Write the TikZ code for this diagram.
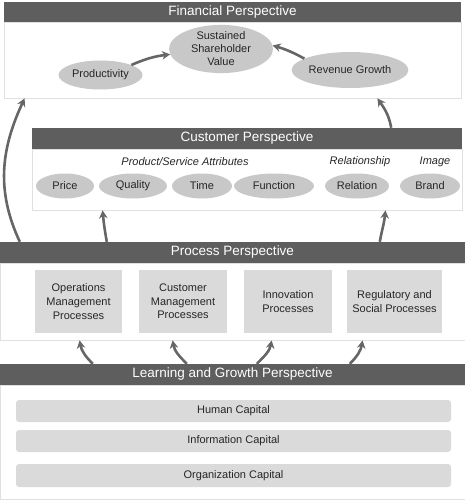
\documentclass[tikz,border=0pt]{standalone}
\usepackage{fontspec}
\setmainfont{Liberation Sans}
\usepackage{tikz}
\usetikzlibrary{shapes,arrows.meta}

\definecolor{hdrgray}{HTML}{5E5E5E}
\definecolor{ovalgray}{HTML}{C8C8C8}
\definecolor{boxgray}{HTML}{DADADA}
\definecolor{arrgray}{HTML}{666666}
\definecolor{rimgray}{HTML}{E0E0E0}

\begin{document}
\begin{tikzpicture}[x=1pt, y=1pt,
  hdr/.style={fill=hdrgray, text=white, inner sep=0, font=\fontsize{13.5}{16}\selectfont},
  panel/.style={draw=rimgray, fill=white, inner sep=0, line width=0.8pt},
  oval/.style={ellipse, fill=ovalgray, inner sep=0, align=center, text=black!85, font=\fontsize{11}{13}\selectfont},
  proc/.style={fill=boxgray, inner sep=0, align=center, minimum height=63pt, text=black!85, font=\fontsize{11}{13.7}\selectfont},
  capbar/.style={fill=boxgray, rounded corners=3pt, inner sep=0, minimum width=435pt, text=black!85, font=\fontsize{11}{13}\selectfont},
  group/.style={inner sep=0, text=black!85, font=\fontsize{11}{13}\itshape},
  link/.style={draw=arrgray, line width=2.6pt, -{Stealth[length=8pt,width=8.5pt]}}]
\useasboundingbox[fill=white] (0,0) rectangle (465,-500);

% financial
\node[panel, minimum width=457pt, minimum height=76pt] (finbox) at (232.5,-60) {};
\node[hdr, minimum width=457pt, minimum height=20pt] (finhdr) at (232.5,-12) {Financial Perspective};
\node[oval, minimum width=84pt, minimum height=29pt] (prod) at (100.5,-75) {Productivity};
\node[oval, minimum width=104pt, minimum height=44pt] (ssv) at (221,-49) {Sustained\\Shareholder\\Value};
\node[oval, minimum width=110pt, minimum height=36pt] (rev) at (350,-70) {Revenue Growth};
\draw[link] (prod.18) to[bend left=8] (ssv.186);
\draw[link] (rev.166) to[bend right=6] (ssv.4);

% customer
\node[panel, minimum width=430pt, minimum height=61pt] (custbox) at (247,-179.5) {};
\node[hdr, minimum width=430pt, minimum height=21pt] (custhdr) at (247,-138.5) {Customer Perspective};
\node[group] (psa) at (185,-162) {Product/Service Attributes};
\node[group] (rel) at (360,-162) {Relationship};
\node[group] (img) at (435,-162) {Image};
\node[oval, minimum width=58pt, minimum height=25pt] (price) at (65,-186) {Price};
\node[oval, minimum width=68pt, minimum height=25pt] (quality) at (133,-186) {Quality};
\node[oval, minimum width=60pt, minimum height=25pt] (time) at (202,-186) {Time};
\node[oval, minimum width=80pt, minimum height=25pt] (func) at (274,-186) {Function};
\node[oval, minimum width=64pt, minimum height=25pt] (relation) at (357,-186) {Relation};
\node[oval, minimum width=60pt, minimum height=25pt] (brand) at (430,-186) {Brand};

% process
\node[panel, minimum width=465pt, minimum height=77pt] (procbox) at (232.5,-301.5) {};
\node[hdr, minimum width=465pt, minimum height=21pt] (prochdr) at (232.5,-252.5) {Process Perspective};
\node[proc, minimum width=87pt] (ops) at (78.5,-301.5) {Operations\\Management\\Processes};
\node[proc, minimum width=88pt] (cmp) at (183,-301.5) {Customer\\Management\\Processes};
\node[proc, minimum width=88pt] (inno) at (288,-301.5) {Innovation\\Processes};
\node[proc, minimum width=95pt] (reg) at (394.5,-301.5) {Regulatory and\\Social Processes};

% learning and growth
\node[panel, minimum width=465pt, minimum height=114pt] (learnbox) at (232.5,-442) {};
\node[hdr, minimum width=465pt, minimum height=21pt] (learnhdr) at (232.5,-374.5) {Learning and Growth Perspective};
\node[capbar, minimum height=22pt] (human) at (233.5,-411) {Human Capital};
\node[capbar, minimum height=22pt] (info) at (233.5,-441) {Information Capital};
\node[capbar, minimum height=23pt] (org) at (233.5,-475.5) {Organization Capital};

% links between perspectives
\draw[link] ([xshift=20pt]prochdr.north west) to[out=115,in=-115] ([xshift=21pt]finbox.south west);
\draw[link] ([xshift=-71pt]custhdr.north east) to[out=100,in=-55] ([xshift=-84pt]finbox.south east);
\draw[link] ([xshift=107pt]prochdr.north west) to[out=100,in=-85] ([xshift=71pt]custbox.south west);
\draw[link] ([xshift=380pt]prochdr.north west) to[out=80,in=-95] ([xshift=-77pt]custbox.south east);
\draw[link] ([xshift=93pt]learnhdr.north west) to[out=135,in=-80] ([xshift=80pt]procbox.south west);
\draw[link] ([xshift=187pt]learnhdr.north west) to[out=135,in=-80] ([xshift=173pt]procbox.south west);
\draw[link] ([xshift=257pt]learnhdr.north west) to[out=45,in=-100] ([xshift=272pt]procbox.south west);
\draw[link] ([xshift=350pt]learnhdr.north west) to[out=45,in=-100] ([xshift=363pt]procbox.south west);
\end{tikzpicture}
\end{document}
